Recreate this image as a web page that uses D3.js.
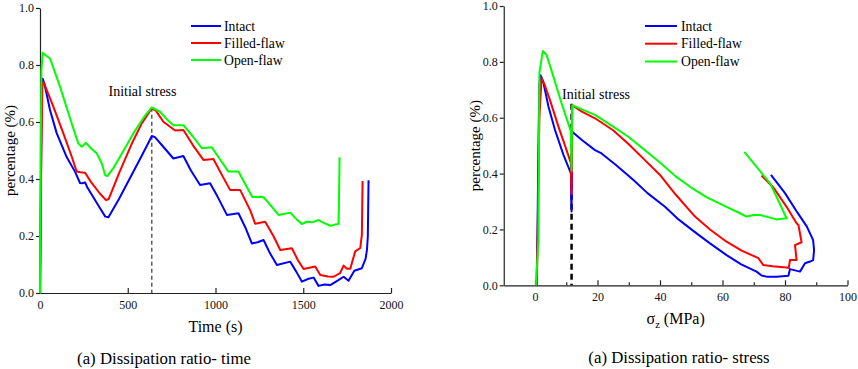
<!DOCTYPE html>
<html>
<head>
<meta charset="utf-8">
<script src="https://cdn.jsdelivr.net/npm/d3@7/dist/d3.min.js"></script>
<style>
    body { margin: 0; background: #fff; }
    svg { display: block; font-family: "Liberation Serif", "Times New Roman", serif; }
    .axis path, .axis line { stroke: #222; stroke-width: 1.2; }
    .axis text { font-size: 12px; fill: #111; font-family: "Liberation Serif", serif; }
    .curve { fill: none; stroke-width: 2; stroke-linejoin: round; }
</style>
</head>
<body>
<div id="chart"></div>
<script>
"use strict";

var seriesNames = ["Intact", "Filled-flaw", "Open-flaw"],
    seriesColors = ["#0000ff", "#ff0000", "#00ff00"];

var timeTicks = [0, 500, 1000, 1500, 2000],
    stressTicks = [0, 20, 40, 60, 80, 100],
    stressMinorTicks = [10, 30, 50, 70, 90],
    pctTicks = [0, 0.2, 0.4, 0.6, 0.8, 1.0];

var initialTime = 637,
    initialStress = 11.7,
    initialPct = 0.65;

// [time (s), percentage]
var timeIntact = [[0,0],[6,0.45],[10,0.7],[15,0.752],[25,0.735],[57,0.642],[95,0.561],[152,0.477],[200,0.425],[228,0.386],[240,0.385],[257,0.388],[270,0.37],[330,0.31],[372,0.268],[390,0.266],[450,0.33],[510,0.4],[570,0.47],[620,0.53],[637,0.551],[655,0.547],[700,0.515],[760,0.472],[817,0.481],[860,0.43],[912,0.379],[969,0.385],[1010,0.34],[1065,0.274],[1131,0.28],[1170,0.23],[1207,0.174],[1240,0.178],[1274,0.186],[1310,0.14],[1350,0.098],[1426,0.11],[1460,0.075],[1492,0.04],[1530,0.05],[1559,0.054],[1587,0.025],[1620,0.03],[1654,0.028],[1700,0.045],[1730,0.057],[1758,0.043],[1791,0.078],[1834,0.087],[1855,0.12],[1863,0.151],[1868,0.2],[1872,0.396]];
var timeFilled = [[0,0],[8,0.5],[14,0.73],[19,0.741],[30,0.725],[76,0.654],[133,0.56],[181,0.478],[209,0.426],[230,0.424],[257,0.422],[290,0.39],[340,0.35],[376,0.326],[392,0.33],[450,0.42],[520,0.52],[580,0.595],[637,0.648],[660,0.64],[703,0.601],[770,0.57],[817,0.572],[870,0.52],[931,0.467],[988,0.47],[1040,0.41],[1084,0.361],[1141,0.361],[1198,0.29],[1226,0.243],[1283,0.25],[1330,0.2],[1369,0.151],[1435,0.157],[1470,0.115],[1502,0.084],[1568,0.093],[1597,0.063],[1640,0.058],[1673,0.057],[1710,0.07],[1730,0.096],[1750,0.085],[1768,0.085],[1796,0.146],[1825,0.158],[1834,0.205],[1838,0.393]];
var timeOpen = [[0,0],[4,0.5],[8,0.78],[15,0.843],[30,0.835],[57,0.823],[114,0.724],[171,0.613],[218,0.525],[238,0.513],[262,0.527],[290,0.508],[323,0.49],[352,0.455],[371,0.414],[384,0.41],[420,0.44],[456,0.478],[532,0.56],[590,0.615],[637,0.651],[684,0.636],[730,0.605],[760,0.589],[817,0.589],[870,0.55],[922,0.508],[979,0.511],[1030,0.465],[1074,0.426],[1131,0.426],[1180,0.37],[1210,0.337],[1255,0.338],[1274,0.336],[1300,0.318],[1359,0.274],[1426,0.282],[1460,0.26],[1492,0.242],[1520,0.25],[1550,0.248],[1587,0.256],[1620,0.245],[1654,0.236],[1680,0.24],[1701,0.242],[1703,0.3],[1707,0.476]];

// [stress (MPa), percentage]
var stressIntact = [[0.5,0],[0.8,0.2],[1.1,0.5],[1.4,0.72],[1.8,0.752],[2.6,0.73],[4.3,0.64],[6.4,0.556],[9.1,0.467],[11.5,0.401],[11.6,0.3],[11.7,0.264],[11.8,0.4],[11.9,0.55],[15,0.52],[19.2,0.484],[21.3,0.472],[26,0.43],[31.5,0.377],[36,0.33],[41.6,0.281],[46,0.235],[51.7,0.186],[56,0.15],[61.3,0.108],[66,0.075],[70.9,0.049],[72.5,0.035],[74.1,0.031],[77.3,0.031],[81.1,0.034],[81.6,0.058],[84.8,0.049],[86.4,0.079],[88,0.085],[89,0.09],[89.3,0.126],[89,0.162],[87,0.21],[84,0.26],[80,0.33],[75.5,0.395]];
var stressFilled = [[0.6,0],[1.0,0.3],[1.4,0.6],[2.1,0.741],[3,0.72],[4.8,0.663],[7.5,0.568],[10.1,0.484],[11.5,0.437],[11.6,0.36],[11.7,0.326],[11.8,0.5],[11.9,0.645],[15,0.622],[19.2,0.598],[25,0.555],[30,0.505],[35,0.45],[40,0.395],[45,0.325],[51.2,0.246],[56,0.2],[61.3,0.156],[66,0.125],[71.5,0.097],[73,0.073],[76,0.068],[80.5,0.064],[81.2,0.062],[81.6,0.091],[83.7,0.091],[83.2,0.144],[85.3,0.154],[84.3,0.216],[83.7,0.222],[80.5,0.281],[76.3,0.35],[72.5,0.393]];
var stressOpen = [[0.3,0],[1.1,0.16],[1.4,0.76],[2.5,0.839],[3.7,0.825],[5.9,0.747],[8.5,0.652],[11.5,0.55],[11.6,0.45],[11.7,0.41],[11.8,0.55],[11.9,0.645],[15,0.63],[19.2,0.61],[25,0.568],[29.9,0.532],[35,0.485],[40,0.44],[45,0.39],[50,0.35],[55,0.315],[61.3,0.281],[65.6,0.258],[67.7,0.246],[70,0.252],[72,0.252],[77.3,0.236],[80.5,0.24],[77.3,0.317],[75.2,0.365],[67,0.478]];

var width = 858,
    height = 369;

var svg = d3.select("#chart").append("svg")
    .attr("width", width)
    .attr("height", height);

drawPanel({
    xDomain: [0, 2000], xRange: [40, 391],
    yRange: [293, 8],
    xTicks: timeTicks, xMinor: [],
    xFormat: d3.format("d"),
    series: [timeIntact, timeFilled, timeOpen],
    widths: [2, 2, 2],
    marker: initialTime,
    dash: { color: "#444", width: 1.3, pattern: "4,3" },
    label: { x: 142.5, y: 96, anchor: "middle" },
    legend: { x1: 191, x2: 221, tx: 224, rows: [26, 43, 60] },
    yTitleX: 15,
    xTitle: "Time (s)",
    caption: { x: 164, y: 364, text: "(a) Dissipation ratio- time" }
});

drawPanel({
    xDomain: [-10, 100], xRange: [503.75, 847.5],
    yRange: [285.3, 6],
    xTicks: stressTicks, xMinor: stressMinorTicks,
    xFormat: d3.format("d"),
    series: [stressIntact, stressFilled, stressOpen],
    widths: [2, 1.6, 2],
    marker: initialStress,
    dash: { color: "#000", width: 2.5, pattern: "6,4" },
    label: { x: 562, y: 99, anchor: "start" },
    legend: { x1: 645, x2: 677, tx: 681, rows: [26, 43.7, 61.5] },
    yTitleX: 480,
    xTitle: null,
    caption: { x: 679, y: 363, text: "(a) Dissipation ratio- stress" }
});

function drawPanel(cfg) {
    var x = d3.scaleLinear().domain(cfg.xDomain).range(cfg.xRange),
        y = d3.scaleLinear().domain([0, 1]).range(cfg.yRange),
        g = svg.append("g"),
        line = d3.line()
            .x(function (d) { return x(d[0]); })
            .y(function (d) { return y(d[1]); }),
        yBase = cfg.yRange[0],
        xMid = (cfg.xRange[0] + cfg.xRange[1]) / 2,
        yMid = (cfg.yRange[0] + cfg.yRange[1]) / 2,
        title;

    if (cfg.xMinor.length) {
        g.append("g").attr("class", "axis")
            .attr("transform", "translate(0," + yBase + ")")
            .call(d3.axisBottom(x).tickValues(cfg.xMinor)
                .tickSizeInner(-3).tickSizeOuter(0).tickFormat(""))
            .select(".domain").remove();
    }

    g.append("g").attr("class", "axis")
        .attr("transform", "translate(0," + yBase + ")")
        .call(d3.axisBottom(x).tickValues(cfg.xTicks)
            .tickSizeInner(-5).tickSizeOuter(0).tickPadding(7)
            .tickFormat(cfg.xFormat));

    g.append("g").attr("class", "axis")
        .attr("transform", "translate(" + cfg.xRange[0] + ",0)")
        .call(d3.axisLeft(y).tickValues(pctTicks)
            .tickSize(4).tickSizeOuter(0).tickPadding(2)
            .tickFormat(d3.format(".1f")));

    // initial stress marker
    g.append("line")
        .attr("x1", x(cfg.marker)).attr("x2", x(cfg.marker))
        .attr("y1", y(initialPct)).attr("y2", y(0))
        .attr("stroke", cfg.dash.color)
        .attr("stroke-width", cfg.dash.width)
        .attr("stroke-dasharray", cfg.dash.pattern);

    g.selectAll(".curve")
        .data(cfg.series)
        .enter().append("path")
        .attr("class", "curve")
        .attr("stroke", function (d, i) { return seriesColors[i]; })
        .attr("stroke-width", function (d, i) { return cfg.widths[i]; })
        .attr("d", line);

    g.append("text")
        .attr("x", cfg.label.x).attr("y", cfg.label.y)
        .attr("text-anchor", cfg.label.anchor)
        .style("font-size", "14px")
        .text("Initial stress");

    // legend
    seriesNames.forEach(function (name, i) {
        var ly = cfg.legend.rows[i];
        g.append("line")
            .attr("x1", cfg.legend.x1).attr("x2", cfg.legend.x2)
            .attr("y1", ly).attr("y2", ly)
            .attr("stroke", seriesColors[i])
            .attr("stroke-width", 2);
        g.append("text")
            .attr("x", cfg.legend.tx).attr("y", ly)
            .attr("dy", "0.35em")
            .style("font-size", "13.7px")
            .text(name);
    });

    g.append("text")
        .attr("transform", "translate(" + cfg.yTitleX + "," + yMid + ") rotate(-90)")
        .attr("text-anchor", "middle")
        .style("font-size", "15px")
        .text("percentage (%)");

    title = g.append("text")
        .attr("x", xMid).attr("y", yBase + 39)
        .attr("text-anchor", "middle")
        .style("font-size", "16px");
    if (cfg.xTitle) {
        title.text(cfg.xTitle);
    } else {
        title.append("tspan").text("\u03c3");
        title.append("tspan").attr("dy", 4).style("font-size", "10.5px").text("z");
        title.append("tspan").attr("dy", -4).text(" (MPa)");
    }

    g.append("text")
        .attr("x", cfg.caption.x).attr("y", cfg.caption.y)
        .attr("text-anchor", "middle")
        .style("font-size", "16.8px")
        .text(cfg.caption.text);
}
</script>
</body>
</html>
